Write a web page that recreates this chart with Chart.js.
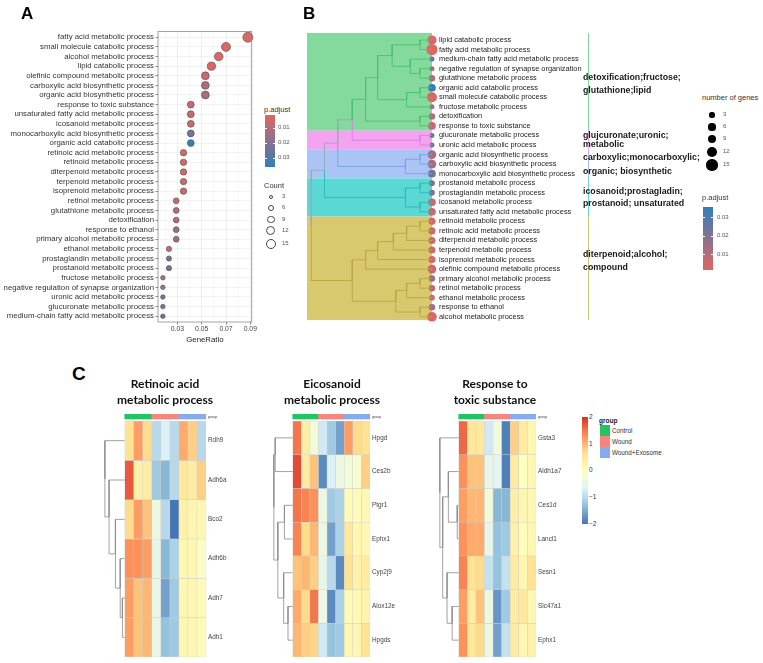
<!DOCTYPE html>
<html>
<head>
<meta charset="utf-8">
<script src="https://cdn.jsdelivr.net/npm/chart.js@4.4.1/dist/chart.umd.min.js"></script>
<style>
  body { margin: 0; background: #fff; width: 763px; height: 663px; position: relative; overflow: hidden; font-family: "Liberation Sans", Arial, sans-serif; }
  canvas { position: absolute; }
  .txt { position: absolute; white-space: nowrap; }
  .swatch { position: absolute; }
</style>
</head>
<body>
<canvas id="dotA" width="258" height="345" style="left:0;top:0"></canvas>
<canvas id="treeB" width="300" height="330" style="left:300px;top:0"></canvas>
<canvas id="hm1" width="142" height="258" style="left:104px;top:405px"></canvas>
<canvas id="hm2" width="137" height="258" style="left:273px;top:405px"></canvas>
<canvas id="hm3" width="137" height="258" style="left:439px;top:405px"></canvas>
<script>
// --- Panel A: GO enrichment (dot plot) ---
const goTerms = ['fatty acid metabolic process', 'small molecule catabolic process', 'alcohol metabolic process',
  'lipid catabolic process', 'olefinic compound metabolic process', 'carboxylic acid biosynthetic process',
  'organic acid biosynthetic process', 'response to toxic substance', 'unsaturated fatty acid metabolic process',
  'icosanoid metabolic process', 'monocarboxylic acid biosynthetic process', 'organic acid catabolic process',
  'retinoic acid metabolic process', 'retinoid metabolic process', 'diterpenoid metabolic process',
  'terpenoid metabolic process', 'isoprenoid metabolic process', 'retinol metabolic process',
  'glutathione metabolic process', 'detoxification', 'response to ethanol', 'primary alcohol metabolic process',
  'ethanol metabolic process', 'prostaglandin metabolic process', 'prostanoid metabolic process',
  'fructose metabolic process', 'negative regulation of synapse organization', 'uronic acid metabolic process',
  'glucuronate metabolic process', 'medium-chain fatty acid metabolic process'];
const geneRatio = [0.088, 0.070, 0.064, 0.058, 0.053, 0.053, 0.053, 0.041, 0.041, 0.041, 0.041, 0.041,
  0.035, 0.035, 0.035, 0.035, 0.035, 0.029, 0.029, 0.029, 0.029, 0.029, 0.023, 0.023, 0.023,
  0.018, 0.018, 0.018, 0.018, 0.018];
const geneCount = [15, 12, 11, 10, 9, 9, 9, 7, 7, 7, 7, 7, 6, 6, 6, 6, 6, 5, 5, 5, 5, 5, 4, 4, 4, 3, 3, 3, 3, 3];
const pAdjust = [0.0015, 0.002, 0.002, 0.002, 0.005, 0.012, 0.012, 0.006, 0.006, 0.006, 0.024, 0.036,
  0.004, 0.004, 0.004, 0.004, 0.004, 0.008, 0.010, 0.010, 0.014, 0.015, 0.006, 0.022, 0.022,
  0.012, 0.012, 0.022, 0.022, 0.026];
const ratioTicks = [0.03, 0.05, 0.07, 0.09];
const ratioMinor = [0.02, 0.04, 0.06, 0.08];
const countLegend = [3, 6, 9, 12, 15];
const padjLegend = [0.01, 0.02, 0.03];

// --- Panel B: term clustering tree ---
const treeTerms = ['lipid catabolic process', 'fatty acid metabolic process', 'medium-chain fatty acid metabolic process',
  'negative regulation of synapse organization', 'glutathione metabolic process', 'organic acid catabolic process',
  'small molecule catabolic process', 'fructose metabolic process', 'detoxification', 'response to toxic substance',
  'glucuronate metabolic process', 'uronic acid metabolic process', 'organic acid biosynthetic process',
  'carboxylic acid biosynthetic process', 'monocarboxylic acid biosynthetic process', 'prostanoid metabolic process',
  'prostaglandin metabolic process', 'icosanoid metabolic process', 'unsaturated fatty acid metabolic process',
  'retinoid metabolic process', 'retinoic acid metabolic process', 'diterpenoid metabolic process',
  'terpenoid metabolic process', 'isoprenoid metabolic process', 'olefinic compound metabolic process',
  'primary alcohol metabolic process', 'retinol metabolic process', 'ethanol metabolic process',
  'response to ethanol', 'alcohol metabolic process'];
const treeCluster = [0, 0, 0, 0, 0, 0, 0, 0, 0, 0, 1, 1, 2, 2, 2, 3, 3, 3, 3, 4, 4, 4, 4, 4, 4, 4, 4, 4, 4, 4];
// nested merges: [left, right, height]; leaves are row indices
const termTree = [
  [[[[[[[0, 1, 0.1], [2, [3, 4, 0.1], 0.18], 0.33], [[5, 6, 0.1], 7, 0.21], 0.45], [8, 9, 0.1], 0.55],
      [10, 11, 0.1], 0.66], [[12, 13, 0.1], 14, 0.22], 0.78], [[15, 16, 0.1], [17, 18, 0.1], 0.22], 0.89],
  [[[[[[19, 20, 0.1], 21, 0.21], 22, 0.32], 23, 0.45], 24, 0.55], [[[25, 26, 0.1], 27, 0.21], [28, 29, 0.1], 0.3], 0.66],
  1.0];
const clusterNames = [['detoxification;fructose;', 'glutathione;lipid'], ['glujcuronate;uronic;', 'metabolic'],
  ['carboxylic;monocarboxylic;', 'organic; biosynthetic'], ['icosanoid;prostagladin;', 'prostanoid; unsaturated'],
  ['diterpenoid;alcohol;', 'compound']];
const clusterFill = ['#84d99c', '#f3a3f0', '#aac4f6', '#5ad8d4', '#d8c96e'];
const clusterLine = ['#4cc170', '#e07de0', '#7f9fe3', '#2fb9b4', '#b9a743'];

// --- Panel C: heatmaps (row z-scores) ---
const sampleGroup = ['Control', 'Control', 'Control', 'Wound', 'Wound', 'Wound', 'Wound+Exosome', 'Wound+Exosome', 'Wound+Exosome'];
const groupNames = ['Control', 'Wound', 'Wound+Exosome'];
const groupColors = ['#22c462', '#f4867f', '#88abee'];

const retinoicGenes = ['Rdh9', 'Adh6a', 'Bco2', 'Adh6b', 'Adh7', 'Adh1'];
const retinoicZ = [
  [0.6, 1.2, 0.7, -1.0, -0.7, -1.0, 1.1, 0.8, -1.0],
  [1.7, 0.3, 0.4, -1.2, -1.4, -1.0, 0.5, 0.4, 0.8],
  [0.7, 1.2, 0.9, -0.4, -1.0, -2.0, 0.3, 0.2, 0.2],
  [1.3, 1.3, 1.2, -0.5, -1.4, -1.1, 0.2, 0.2, -0.1],
  [1.2, 0.9, 1.0, -0.5, -1.6, -1.2, 0.2, 0.2, 0.1],
  [1.2, 0.9, 1.0, -0.5, -1.3, -1.2, 0.2, 0.2, 0.1]];
const retinoicTree = [0, [1, [2, [3, [4, 5, 0.12], 0.23], 0.47], 0.79], 1.0];

const eicosanoidGenes = ['Hpgd', 'Ces2b', 'Ptgr1', 'Ephx1', 'Cyp2j9', 'Alox12e', 'Hpgds'];
const eicosanoidZ = [
  [1.5, 0.35, -0.3, -0.8, -1.2, -1.6, 1.2, 0.7, 0.6],
  [1.8, 0.4, 0.9, -1.8, -0.7, -0.4, -0.3, -0.2, 0.8],
  [1.5, 1.4, 1.3, -0.4, -1.2, -1.1, 0.1, 0.1, 0.15],
  [1.4, 0.7, 1.0, -0.4, -1.6, -1.1, 0.5, 0.2, 0.15],
  [0.9, 1.0, 0.8, -0.5, -1.0, -1.8, 0.6, 0.3, 0.4],
  [1.1, 0.7, 1.5, -0.4, -1.8, -1.1, 0.1, 0.15, 0.25],
  [1.0, 0.8, 0.75, -0.8, -1.3, -1.2, 0.2, 0.2, 0.6]];
const eicosanoidTree = [[0, 1, 0.93], [[2, 3, 0.44], [4, [5, 6, 0.25], 0.48], 0.79], 1.0];

const toxicGenes = ['Gsta3', 'Aldh1a7', 'Ces1d', 'Lancl1', 'Sesn1', 'Slc47a1', 'Ephx1'];
const toxicZ = [
  [1.6, 0.5, 0.5, -0.8, -0.3, -1.9, 0.8, 0.4, 0.2],
  [1.3, 0.9, 0.9, -0.5, -0.6, -1.9, 0.4, 0.0, 0.2],
  [1.2, 1.0, 1.0, -0.3, -1.4, -1.4, 0.35, 0.2, 0.2],
  [1.3, 1.1, 1.1, -0.5, -1.3, -1.2, 0.3, 0.05, 0.2],
  [1.4, 0.6, 0.7, -0.9, -1.3, -0.9, 0.4, 0.2, 0.6],
  [1.2, 0.4, 0.9, -0.4, -1.7, -1.2, 0.4, 0.5, 0.2],
  [1.3, 0.5, 0.7, -0.4, -1.6, -0.9, 0.4, 0.2, 0.3]];
const toxicTree = [0, [[1, [2, 3, 0.08], 0.55], [4, [5, 6, 0.35], 0.62], 0.85], 1.0];
const zLegend = [2, 1, 0, -1, -2];

// --- colour helpers ---
const padjRange = [0.0013, 0.036];
function hexRgb(h) { return [1, 3, 5].map(i => parseInt(h.slice(i, i + 2), 16)); }
function mix(c1, c2, t) {
  const a = hexRgb(c1), b = hexRgb(c2);
  return 'rgb(' + a.map((v, i) => Math.round(v + (b[i] - v) * t)).join(',') + ')';
}
function padjColor(p) {
  const t = Math.min(1, Math.max(0, (p - padjRange[0]) / (padjRange[1] - padjRange[0])));
  return mix('#e06663', '#327eba', t);
}
const rdylbu = ['#4575b4', '#91bfdb', '#e0f3f8', '#ffffbf', '#fee090', '#fc8d59', '#d73027'];
function zColor(z) {
  const t = (Math.min(2, Math.max(-2, z)) + 2) / 4 * (rdylbu.length - 1);
  const i = Math.min(rdylbu.length - 2, Math.floor(t));
  return mix(rdylbu[i], rdylbu[i + 1], t - i);
}
const sizeA = n => 1.3 * Math.sqrt(n);
const sizeB = n => 1.45 * Math.sqrt(n);

// --- text helpers ---
function addText(text, x, cy, size, opts = {}) {
  const d = document.createElement('div');
  d.className = 'txt';
  d.textContent = text;
  d.style.fontSize = size + 'px';
  d.style.lineHeight = size * 1.2 + 'px';
  d.style.top = (cy - size * 0.6) + 'px';
  d.style.color = opts.color || '#222';
  if (opts.bold) d.style.fontWeight = 'bold';
  if (opts.font) d.style.fontFamily = opts.font;
  if (opts.center) { d.style.left = (x - 100) + 'px'; d.style.width = '200px'; d.style.textAlign = 'center'; }
  else d.style.left = x + 'px';
  document.body.appendChild(d);
  return d;
}
function addBox(x, y, w, h, css) {
  const d = document.createElement('div');
  d.className = 'swatch';
  Object.assign(d.style, { left: x + 'px', top: y + 'px', width: w + 'px', height: h + 'px' }, css);
  document.body.appendChild(d);
}

// --- tree layout: elbow segments from nested merges ---
function layoutTree(node, leafY, hToX, segs) {
  if (typeof node === 'number') return { x: hToX(0), y: leafY(node), leaves: [node] };
  const a = layoutTree(node[0], leafY, hToX, segs);
  const b = layoutTree(node[1], leafY, hToX, segs);
  const xh = hToX(node[2]);
  const ym = (a.y + b.y) / 2;
  [a, b].forEach(c => segs.push({ pts: [{ x: c.x, y: c.y }, { x: xh, y: c.y }, { x: xh, y: ym }], leaves: c.leaves }));
  return { x: xh, y: ym, leaves: a.leaves.concat(b.leaves) };
}
function joinSegs(list) {
  const out = [];
  list.forEach(s => { out.push(...s.pts, { x: null, y: null }); });
  return out;
}

const boxPlugin = {
  id: 'panelBox',
  afterDraw(chart, args, opts) {
    if (!opts.color) return;
    const { ctx, chartArea: a } = chart;
    ctx.save();
    ctx.strokeStyle = opts.color;
    ctx.lineWidth = 0.8;
    ctx.strokeRect(a.left, a.top, a.right - a.left, a.bottom - a.top);
    ctx.restore();
  }
};
Chart.register(boxPlugin);

// ================= Panel A =================
new Chart(document.getElementById('dotA'), {
  type: 'bubble',
  data: {
    datasets: [{
      data: goTerms.map((t, i) => ({ x: geneRatio[i], y: i, r: sizeA(geneCount[i]) })),
      backgroundColor: pAdjust.map(padjColor),
      borderColor: '#4a4a4a',
      borderWidth: 0.6,
      clip: false
    }]
  },
  options: {
    responsive: false,
    animation: false,
    layout: { padding: { top: 31.5, right: 4, bottom: 0, left: 0 } },
    plugins: { legend: { display: false }, tooltip: { enabled: false }, panelBox: { color: '#8c8c8c' } },
    scales: {
      x: {
        type: 'linear', min: 0.014, max: 0.0912,
        afterBuildTicks: s => { s.ticks = ratioMinor.concat(ratioTicks).sort().map(v => ({ value: v })); },
        afterFit: s => { s.height = 23; },
        border: { display: false },
        grid: {
          color: c => ratioTicks.includes(c.tick.value) ? '#e8e8e8' : '#f3f3f3',
          lineWidth: c => ratioTicks.includes(c.tick.value) ? 0.7 : 0.5,
          tickColor: c => ratioTicks.includes(c.tick.value) ? '#555' : 'rgba(0,0,0,0)',
          tickLength: 2.5
        },
        ticks: {
          autoSkip: false, maxRotation: 0, padding: 1, color: '#444',
          font: { size: 6.8, family: 'Liberation Sans' },
          callback: v => ratioTicks.includes(v) ? v.toFixed(2) : ''
        },
        title: { display: true, text: 'GeneRatio', color: '#222', font: { size: 7.8, family: 'Liberation Sans' }, padding: 0 }
      },
      y: {
        type: 'linear', reverse: true, min: -0.6, max: 29.6,
        afterBuildTicks: s => { s.ticks = goTerms.map((t, i) => ({ value: i })); },
        afterFit: s => { s.width = 158; },
        border: { display: false },
        grid: { color: '#ececec', lineWidth: 0.7, tickColor: '#555', tickLength: 2.5 },
        ticks: {
          autoSkip: false, padding: 1.5, color: '#333',
          font: { size: 7.8, family: 'Liberation Sans' },
          callback: v => goTerms[v]
        }
      }
    }
  }
});

// Panel A legends
addText('A', 21, 14, 17, { bold: true, color: '#000' });
addText('p.adjust', 264, 109.5, 7.5, { color: '#333' });
addBox(265, 115, 10, 52, { background: 'linear-gradient(to bottom, #e06663, #327eba)' });
padjLegend.forEach(v => {
  const y = 115 + (v - padjRange[0]) / (padjRange[1] - padjRange[0]) * 52;
  addBox(265, y - 0.4, 2, 0.8, { background: '#fff' });
  addBox(273, y - 0.4, 2, 0.8, { background: '#fff' });
  addText(v.toFixed(2), 278, y, 6, { color: '#555' });
});
addText('Count', 264, 185, 7.5, { color: '#333' });
[197, 208, 219.5, 231, 244].forEach((cy, i) => {
  const r = sizeA(countLegend[i]);
  addBox(271 - r, cy - r, 2 * r, 2 * r, { border: '0.8px solid #444', borderRadius: '50%', boxSizing: 'border-box' });
  addText(String(countLegend[i]), 282, cy, 6, { color: '#555' });
});

// ================= Panel B =================
const treeSegs = [];
layoutTree(termTree, i => i, h => h, treeSegs);
const segColor = s => {
  const c = treeCluster[s.leaves[0]];
  return s.leaves.every(l => treeCluster[l] === c) ? clusterLine[c] : '#9aaabb';
};
const lineColors = [...new Set(treeSegs.map(segColor))];
const treeDatasets = lineColors.map(col => ({
  type: 'scatter',
  data: joinSegs(treeSegs.filter(s => segColor(s) === col)),
  showLine: true, spanGaps: false,
  borderColor: col, borderWidth: 0.9, pointRadius: 0
}));
const bubbleB = {
  type: 'bubble',
  data: treeTerms.map((t, i) => {
    const k = goTerms.indexOf(t);
    return { x: 0, y: i, r: sizeB(geneCount[k]) };
  }),
  backgroundColor: treeTerms.map(t => padjColor(pAdjust[goTerms.indexOf(t)])),
  borderWidth: 0,
  clip: false
};
const bandPlugin = {
  id: 'clusterBands',
  beforeDatasetsDraw(chart) {
    if (chart.canvas.id !== 'treeB') return;
    const { ctx, chartArea: a, scales } = chart;
    const xr = scales.x.getPixelForValue(0);
    clusterFill.forEach((col, c) => {
      const rows = treeCluster.map((k, i) => k === c ? i : -1).filter(i => i >= 0);
      const first = rows[0], last = rows[rows.length - 1];
      const top = scales.y.getPixelForValue(first === 0 ? -0.75 : first - 0.5);
      const bot = scales.y.getPixelForValue(last === treeTerms.length - 1 ? last + 0.35 : last + 0.5);
      ctx.fillStyle = col;
      ctx.fillRect(a.left, top, xr - a.left, bot - top);
      // cluster bar beside the labels
      ctx.strokeStyle = clusterLine[c];
      ctx.globalAlpha = 0.7;
      ctx.lineWidth = 1;
      ctx.beginPath();
      ctx.moveTo(288.5, top);
      ctx.lineTo(288.5, bot);
      ctx.stroke();
      ctx.globalAlpha = 1;
    });
  }
};
new Chart(document.getElementById('treeB'), {
  type: 'scatter',
  data: { datasets: treeDatasets.concat([bubbleB]) },
  plugins: [bandPlugin],
  options: {
    responsive: false,
    animation: false,
    layout: { padding: { top: 32.4, right: 0, bottom: 8.2, left: 7 } },
    plugins: { legend: { display: false }, tooltip: { enabled: false } },
    scales: {
      x: { type: 'linear', display: false, reverse: true, min: -0.025, max: 1.035 },
      y: {
        type: 'linear', position: 'right', reverse: true, min: -0.8, max: 29.5,
        afterBuildTicks: s => { s.ticks = treeTerms.map((t, i) => ({ value: i })); },
        afterFit: s => { s.width = 165; },
        border: { display: false },
        grid: { display: false, drawTicks: false },
        ticks: {
          autoSkip: false, padding: 4, color: '#222',
          font: { size: 7.4, family: 'Liberation Sans' },
          callback: v => treeTerms[v]
        }
      }
    }
  }
});

// Panel B legends and cluster labels
addText('B', 303, 14, 17, { bold: true, color: '#000' });
const clusterLabelY = [[77, 90], [135, 144.5], [157.5, 171], [191, 203.5], [254, 267]];
clusterNames.forEach((lines, c) => lines.forEach((s, j) => addText(s, 583, clusterLabelY[c][j], 8.8, { bold: true, color: '#1a1a1a' })));
addText('number of genes', 702, 97, 7.5, { color: '#333' });
[115, 127, 139, 152, 165].forEach((cy, i) => {
  const r = sizeB(countLegend[i]);
  addBox(712 - r, cy - r, 2 * r, 2 * r, { background: '#000', borderRadius: '50%' });
  addText(String(countLegend[i]), 723, cy, 6, { color: '#555' });
});
addText('p.adjust', 702, 197, 7.5, { color: '#333' });
addBox(703, 207, 10, 63, { background: 'linear-gradient(to bottom, #327eba, #e06663)' });
padjLegend.forEach(v => {
  const y = 270 - (v - padjRange[0]) / (padjRange[1] - padjRange[0]) * 63;
  addBox(703, y - 0.4, 2, 0.8, { background: '#fff' });
  addBox(711, y - 0.4, 2, 0.8, { background: '#fff' });
  addText(v.toFixed(2), 717, y, 6, { color: '#555' });
});

// ================= Panel C =================
function drawHeatmap(id, genes, z, tree) {
  const n = genes.length;
  const rowPx = 236 / n;
  const annBot = n + 2 / rowPx, annTop = n + 7 / rowPx;
  const rows = genes.map((g, r) => ({
    type: 'bar',
    stack: 'cells',
    data: sampleGroup.map((s, c) => ({ x: c + 0.5, y: [n - r - 1, n - r] })),
    backgroundColor: z[r].map(zColor),
    borderColor: 'rgba(205,205,205,0.9)',
    borderWidth: 0.5,
    borderSkipped: false,
    barPercentage: 1, categoryPercentage: 1
  }));
  const ann = {
    type: 'bar',
    stack: 'cells',
    data: sampleGroup.map((s, c) => ({ x: c + 0.5, y: [annBot, annTop] })),
    backgroundColor: sampleGroup.map(s => groupColors[groupNames.indexOf(s)]),
    borderWidth: 0,
    barPercentage: 1, categoryPercentage: 1
  };
  const segs = [];
  layoutTree(tree, i => n - i - 0.5, h => -h * 2.2, segs);
  const dendro = {
    type: 'line',
    data: joinSegs(segs),
    spanGaps: false, borderColor: '#8a8a8a', borderWidth: 0.8, pointRadius: 0
  };
  const tickList = genes.map((g, r) => ({ value: n - r - 0.5, name: g }))
    .concat([{ value: (annBot + annTop) / 2, name: 'group' }])
    .sort((a, b) => a.value - b.value);
  new Chart(document.getElementById(id), {
    type: 'bar',
    data: { datasets: rows.concat([ann, dendro]) },
    options: {
      responsive: false,
      animation: false,
      layout: { padding: { top: 9, right: 0, bottom: 6, left: 0 } },
      plugins: { legend: { display: false }, tooltip: { enabled: false } },
      scales: {
        x: {
          type: 'linear', display: false, offset: false, min: -2.3, max: 9,
          grid: { offset: false },
          afterBuildTicks: s => { s.ticks = [{ value: 0 }, { value: 9 }]; }
        },
        y: {
          type: 'linear', position: 'right', stacked: false, min: 0, max: annTop,
          afterBuildTicks: s => { s.ticks = tickList.map(t => ({ value: t.value, name: t.name })); },
          afterFit: s => { s.width = 40; },
          border: { display: false },
          grid: { display: false, drawTicks: false },
          ticks: {
            autoSkip: false, padding: 2, color: '#444',
            font: c => ({ size: c.tick && c.tick.name === 'group' ? 3.6 : 6.4, family: 'Liberation Sans' }),
            callback: (v, i, ticks) => ticks[i].name
          }
        }
      }
    }
  });
}
drawHeatmap('hm1', retinoicGenes, retinoicZ, retinoicTree);
drawHeatmap('hm2', eicosanoidGenes, eicosanoidZ, eicosanoidTree);
drawHeatmap('hm3', toxicGenes, toxicZ, toxicTree);

addText('C', 72, 374, 19, { bold: true, color: '#000' });
const titleFont = 'Lato, "Open Sans", sans-serif';
[[165, 'Retinoic acid', 'metabolic process'], [332, 'Eicosanoid', 'metabolic process'], [495, 'Response to', 'toxic substance']]
  .forEach(([cx, l1, l2]) => {
    addText(l1, cx, 384, 12, { bold: true, center: true, font: titleFont, color: '#111' });
    addText(l2, cx, 400, 12, { bold: true, center: true, font: titleFont, color: '#111' });
  });

// heatmap colour key
addBox(582, 417, 5.5, 107, { background: 'linear-gradient(to bottom, ' + rdylbu.slice().reverse().join(', ') + ')' });
zLegend.forEach(v => {
  const y = 417 + (2 - v) / 4 * 106.5;
  addText(v < 0 ? '\u2212' + Math.abs(v) : String(v), 589, y, 6.5, { color: '#333' });
});
addText('group', 599, 421, 6.5, { bold: true, color: '#222' });
groupNames.forEach((g, i) => {
  addBox(600, 425 + i * 11.2, 9.5, 10.5, { background: groupColors[i] });
  addText(g, 612, 430.5 + i * 11.2, 6.3, { color: '#333' });
});
</script>
</body>
</html>
